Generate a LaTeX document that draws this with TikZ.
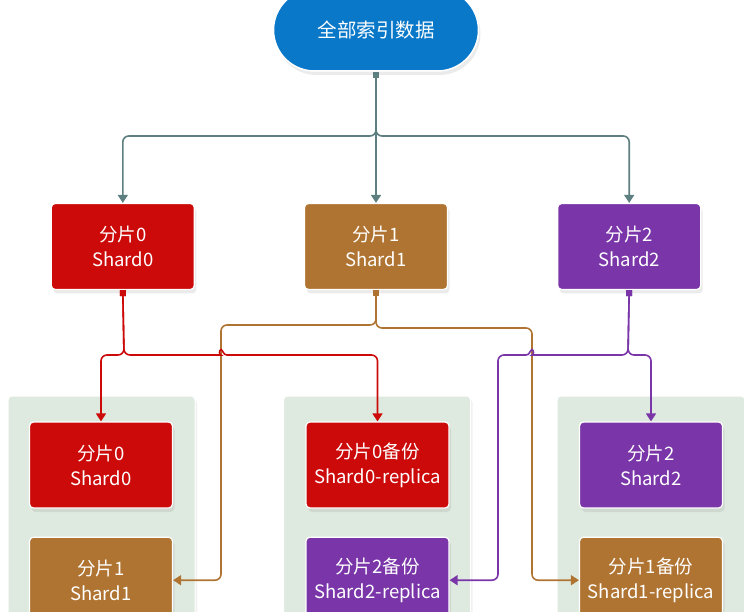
\documentclass[tikz,border=0pt]{standalone}
\usepackage{fontspec}
\setmainfont{Noto Sans CJK SC}
\usepackage{tikz}
\usetikzlibrary{arrows.meta,positioning,shadows}
\definecolor{idxblue}{HTML}{0A78C8}
\definecolor{shardred}{HTML}{CC0A0A}
\definecolor{shardbrown}{HTML}{B07432}
\definecolor{shardpurple}{HTML}{7A35A8}
\definecolor{linkgray}{HTML}{5E7F7F}
\definecolor{nodebg}{HTML}{DEEADF}
\tikzset{
  shardbox/.style={rectangle, rounded corners=4pt, draw=white, line width=1.2pt, fill=#1,
                   text=white, align=center, font=\fontsize{18.5}{25}\selectfont,
                   minimum width=143pt, minimum height=86pt,
                   drop shadow={opacity=0.16, shadow xshift=2pt, shadow yshift=-4pt}},
  groupbox/.style={rectangle, rounded corners=4pt, draw=white, line width=1pt, fill=nodebg,
                   minimum width=187pt, minimum height=240pt,
                   drop shadow={opacity=0.12, shadow xshift=2pt, shadow yshift=-3pt}},
  link/.style={{Square[length=6pt,width=6pt]}-{Triangle[length=8pt,width=10pt]},
               line width=1.6pt, draw=#1, rounded corners=6pt},
}

\begin{document}
\begin{tikzpicture}[x=1pt,y=-1pt]
  \useasboundingbox (0,0) rectangle (744,612);
  \clip (0,0) rectangle (744,612);

  % Gruppen
  \node[groupbox] (g0) at (101.5,516) {};
  \node[groupbox] (g1) at (377,516) {};
  \node[groupbox, minimum width=188pt] (g2) at (651,516) {};

  % Index
  \node[rectangle, rounded corners=41pt, fill=idxblue, draw=white, line width=1.5pt,
        minimum width=205pt, minimum height=82pt, text=white, font=\fontsize{19.5}{24}\selectfont,
        drop shadow={opacity=0.16, shadow xshift=2pt, shadow yshift=-4pt}]
        (top) at (376,30) {全部索引数据};

  % Shards
  \node[shardbox=shardbrown] (s1) at (376,246.5) {分片1\\Shard1};
  \node[shardbox=shardred, left=109pt of s1] (s0) {分片0\\Shard0};
  \node[shardbox=shardpurple, right=109pt of s1] (s2) {分片2\\Shard2};

  % Knoten
  \node[shardbox=shardred] (r0) at (101,465) {分片0\\Shard0};
  \node[shardbox=shardbrown, below=28pt of r0] (r1) {分片1\\Shard1};
  \node[shardbox=shardred] (r0r) at (377.5,465) {分片0备份\\Shard0-replica};
  \node[shardbox=shardpurple, below=28pt of r0r] (r2r) {分片2备份\\Shard2-replica};
  \node[shardbox=shardpurple] (r2) at (651,465) {分片2\\Shard2};
  \node[shardbox=shardbrown, below=28pt of r2] (r1r) {分片1备份\\Shard1-replica};

  \draw[link=linkgray] (top.south) -- (376,136) -| (s0.north);
  \draw[link=linkgray] (top.south) -- (s1.north);
  \draw[link=linkgray] (top.south) -- (376,136) -| (s2.north);

  \draw[link=shardbrown] (s1.south) -- (376,325) -- (221,325) |- (r1.east);
  \draw[link=shardbrown] (s1.south) -- (376,328) -- (532,328) |- (r1r.west);

  \draw[link=shardred] (s0.south) -- (124,355) -| (r0.north);
  \draw[link=shardred] (s0.south) -- (124,355) -- (215,355) [sharp corners]
    .. controls (219,355) and (219,350) .. (221,349.5)
    .. controls (223,350) and (223,355) .. (227,355) [rounded corners=6pt] -| (r0r.north);

  \draw[link=shardpurple] (s2.south) -- (628,355) -| (r2.north);
  \draw[link=shardpurple] (s2.south) -- (628,355) -- (538,355) [sharp corners]
    .. controls (534,355) and (534,350) .. (532,349.5)
    .. controls (530,350) and (530,355) .. (526,355) [rounded corners=6pt] -- (498,355) |- (r2r.east);
\end{tikzpicture}
\end{document}
